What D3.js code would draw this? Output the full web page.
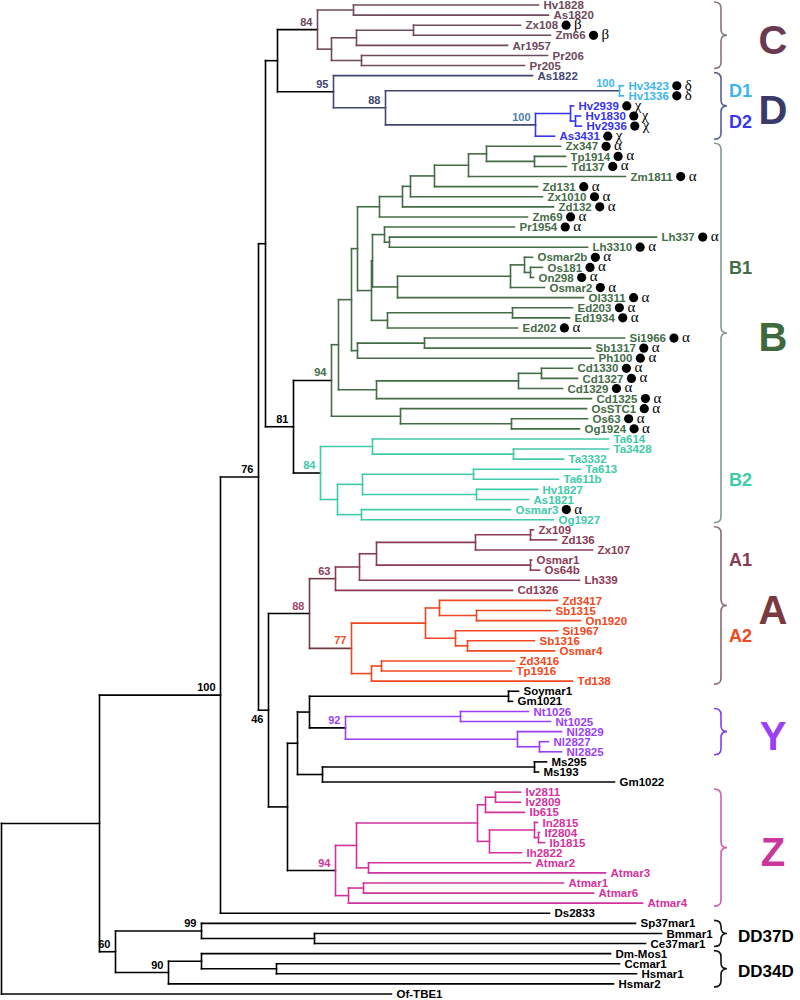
<!DOCTYPE html>
<html><head><meta charset="utf-8">
<script src="https://cdn.jsdelivr.net/npm/d3@7"></script>
<style>
body{margin:0;background:#fff;}
svg{display:block;font-family:"Liberation Sans",Arial,sans-serif;}
</style></head><body>
<svg id="chart" width="800" height="1000"></svg>
<script>
// ---------- DATA: subtrees (Newick, branch lengths) ----------
const subtreeC = "((Hv1828:0.185,As1820:0.195):0.036,(((Zx108:0.107,Zm66:0.137):0.057,Ar1957:0.151):0.025,(Pr206:0.186,Pr205:0.163):0.030):0.014)84:0.040";
const subtreeD = "(As1822:0.199,((Hv3423:0.004,Hv1336:0.004)100:0.234,((Hv2939:0.003,(Hv1830:0.005,Hv2936:0.006):0.005):0.035,As3431:0.019)100:0.150)88:0.052)95:0.056";
const subtreeB1a = "((((((Zx347:0.074,(Tp1914:0.031,Td137:0.032):0.048):0.018,Zm1811:0.157):0.034,Zd131:0.103):0.024,Zx1010:0.132):0.008,Zd132:0.151):0.023,Zm69:0.148):0.022";
const subtreeB1b = "(((Pr1954:0.130,(Lh337:0.267,Lh3310:0.198):0.005):0.012,(((Osmar2b:0.008,(Os181:0.012,On298:0.003):0.006):0.014,Osmar2:0.034):0.113,Ol3311:0.186):0.025):0.001,((Ed203:0.060,Ed1934:0.057):0.125,Ed202:0.130):0.016):0.014";
const subtreeB1c = "((Si1966:0.200,Sb1317:0.166):0.067,Ph100:0.236):0.006";
const subtreeB1d = "(((Cd1330:0.031,Cd1327:0.036):0.023,Cd1329:0.044):0.142,Cd1325:0.215):0.038";
const subtreeB1e = "(OsSTC1:0.186,(Os63:0.076,Og1924:0.068):0.111):0.069";
const subtreeB2 = "((Ta614:0.236,(Ta3428:0.095,Ta3332:0.050):0.141):0.052,(((Ta613:0.107,Ta611b:0.085):0.111,(Hv1827:0.061,As1821:0.052):0.114):0.025,(Osmar3:0.149,Og1927:0.192):0.024):0.017)84:0.027";
const subtreeA1 = "(((((Zx109:0.003,Zd136:0.026):0.055,Zx107:0.117):0.099,(Osmar1:0.001,Os64b:0.009):0.154):0.017,Lh339:0.220):0.024,Cd1326:0.177)63:0.026";
const subtreeA2 = "(((Zd3417:0.118,(Sb1315:0.074,On1920:0.104):0.037):0.014,(Si1967:0.102,(Sb1316:0.067,Osmar4:0.087):0.012):0.030):0.074,((Zd3416:0.133,Tp1916:0.130):0.010,Td138:0.201):0.020)77:0.042";
const subtreeSoy = "(Soymar1:0.010,Gm1021:0.004):0.199";
const subtreeY = "((Nt1026:0.068,Nt1025:0.090):0.115,(Nl2829:0.044,(Nl2827:0.009,Nl2825:0.022):0.022):0.172)92:0.036";
const subtreeMs = "((Ms295:0.012,Ms193:0.004):0.212,Gm1022:0.292):0.025";
const subtreeZ = "(((((Iv2811:0.025,Iv2809:0.025):0.010,Ib615:0.039):0.008,((In2815:0.003,(If2804:0.001,Ib1815:0.006):0.004):0.045,Ih2822:0.032):0.012):0.121,(Atmar2:0.162,Atmar3:0.237):0.012):0.021,((Atmar1:0.200,Atmar6:0.230):0.015,Atmar4:0.294):0.013)94:0.048";
const subtreeDD = "((Sp37mar1:0.434,(Bmmar1:0.347,Ce37mar1:0.331):0.113)99:0.086,((Dm-Mos1:0.409,(Ccmar1:0.343,Hsmar1:0.360):0.075):0.033,Hsmar2:0.445)90:0.053)60:0.016";

// clade colours: clade = common ancestor of [from, to]
const cladeFrom  = ["Hv1828","As1822","Hv3423","Hv2939","Zx347","Ta614","Zx109","Zx109","Zd3417","Nt1026","Iv2811"];
const cladeTo    = ["Pr205","As3431","Hv1336","As3431","Og1924","Og1927","Td138","Cd1326","Td138","Nl2825","Atmar4"];
const cladeColor = ["#6e4a5c","#42466f","#3bb5ec","#3535f0","#446c47","#3fcaa9","#6e3c42","#8b3a55","#f04820","#9a3ff5","#d2329e"];
// support label colour exceptions
const supportFrom = ["Hv2939","Zx109"];
const supportTo = ["As3431","Td138"];
const supportColor = ["#4d7fa9","#a24a6e"];

// markers after labels
const markerLetters = ["β","δ","χ","α"];
const markerLeaves = [
  ["Zx108","Zm66"],
  ["Hv3423","Hv1336"],
  ["Hv2939","Hv1830","Hv2936","As3431"],
  ["Zx347","Tp1914","Td137","Zm1811","Zd131","Zx1010","Zd132","Zm69","Pr1954","Lh337","Lh3310","Osmar2b","Os181","On298","Osmar2","Ol3311","Ed203","Ed1934","Ed202","Si1966","Sb1317","Ph100","Cd1330","Cd1327","Cd1329","Cd1325","OsSTC1","Os63","Og1924","Osmar3"]
];

// right-hand groups (braces)
const groupNames = ["C","D","B","A","Y","Z","DD37D","DD34D"];
const groupFrom = ["Hv1828","As1822","Zx347","Zx109","Nt1026","Iv2811","Sp37mar1","Dm-Mos1"];
const groupTo   = ["Pr205","As3431","Og1927","Td138","Nl2825","Atmar4","Ce37mar1","Hsmar2"];
const groupBraceColor = ["#8a7080","#5a6090","#869a8c","#8c6a72","#8040f0","#d060b0","#111","#111"];
const groupTextColor  = ["#6a3b50","#3a3a6a","#3e6a3e","#7a3a40","#9b40f4","#c8379a","#000","#000"];
// sub-group labels
const subNames = ["D1","D2","B1","B2","A1","A2"];
const subFrom = ["Hv3423","Hv2939","Osmar2b","Ta614","Zx109","Zd3417"];
const subTo   = ["Hv1336","As3431","On298","Og1927","Cd1326","Tp1916"];
const subColor = ["#3bb5ec","#3838ee","#446c47","#3fcaa9","#8b3a55","#f04820"];

// ---------- assemble tree ----------
const nodeB1 = `((((${subtreeB1a},${subtreeB1b}):0.006,${subtreeB1c}):0.013,${subtreeB1d}):0.007,${subtreeB1e})94:0.038`;
const nodeCD = `(${subtreeC},${subtreeD}):0.012`;
const nodeB = `(${nodeB1},${subtreeB2})81:0.028`;
const nodeA = `(${subtreeA1},${subtreeA2})88:0.041`;
const nodeYZ = `(((${subtreeSoy},${subtreeY}):0.012,${subtreeMs}):0.010,${subtreeZ}):0.019`;
const node76 = `((${nodeCD},${nodeB}):0.007,(${nodeA},${nodeYZ})46:0.010)76:0.038`;
const treeNewick = `(((${node76},Ds2833:0.329)100:0.121,${subtreeDD}):0.098,Of-TBE1:0.390);`;

function parseNewick(s){
  let i=0;
  function node(){
    const n={children:[]};
    if(s[i]==='('){
      i++; n.children.push(node());
      while(s[i]===','){i++; n.children.push(node());}
      i++;
    }
    let name='';
    while(i<s.length && !',():;'.includes(s[i])) name+=s[i++];
    n.name=name;
    n.length=0;
    if(s[i]===':'){i++; let num=''; while(i<s.length && !',();'.includes(s[i])) num+=s[i++]; n.length=+num;}
    if(!n.children.length) delete n.children;
    return n;
  }
  return node();
}

const svg = d3.select("#chart");
const root = d3.hierarchy(parseNewick(treeNewick));
root.eachBefore(d=>{ d.dist = d.parent ? d.parent.dist + d.data.length : 0; });
const leaves = root.leaves();
const yScale = d3.scaleLinear().domain([0, leaves.length-1]).range([5, 994]);
const xScale = d3.scaleLinear().domain([0, 0.66]).range([1.5, 661.5]);
leaves.forEach((d,i)=>{ d.py = yScale(i); });
root.eachAfter(d=>{
  if(d.children) d.py = (d.children[0].py + d.children[d.children.length-1].py)/2;
  d.px = xScale(d.dist);
});
const byName = new Map(leaves.map(d=>[d.data.name,d]));
function lca(a,b){ const A=new Set(byName.get(a).ancestors()); return byName.get(b).ancestors().find(n=>A.has(n)); }
const colorAt = new Map();
cladeFrom.forEach((f,i)=>colorAt.set(lca(f,cladeTo[i]), cladeColor[i]));
root.eachBefore(d=>{ d.color = colorAt.get(d) || (d.parent ? d.parent.color : "#000"); });
const supAt = new Map();
supportFrom.forEach((f,i)=>supAt.set(lca(f,supportTo[i]), supportColor[i]));

// ---------- branches ----------
const gl = svg.append("g").attr("stroke-width",1.6).attr("stroke-linecap","square").attr("fill","none");
gl.selectAll("line.h").data(root.descendants().filter(d=>d.parent)).join("line")
  .attr("x1",d=>d.parent.px).attr("x2",d=>d.px).attr("y1",d=>d.py).attr("y2",d=>d.py)
  .attr("stroke",d=>d.parent.color);
gl.selectAll("line.v").data(root.descendants().filter(d=>d.children)).join("line")
  .attr("x1",d=>d.px).attr("x2",d=>d.px)
  .attr("y1",d=>d.children[0].py).attr("y2",d=>d.children[d.children.length-1].py)
  .attr("stroke",d=>d.color);

// ---------- support values ----------
svg.append("g").selectAll("text").data(root.descendants().filter(d=>d.children && d.data.name)).join("text")
  .attr("x",d=>d.px-5).attr("y",d=>d.data.name==="46" ? d.py+13 : d.py-4)
  .attr("text-anchor","end").attr("font-size",11).attr("font-weight","bold")
  .attr("fill",d=>supAt.get(d) || d.color).text(d=>d.data.name);

// ---------- leaf labels + markers ----------
const markerOf = new Map();
markerLeaves.forEach((arr,i)=>arr.forEach(n=>markerOf.set(n, markerLetters[i])));
const gLab = svg.append("g");
leaves.forEach(d=>{
  const t = gLab.append("text").attr("x",d.px+5).attr("y",d.py).attr("dy","0.36em")
    .attr("font-size",11.5).attr("font-weight","bold").attr("fill",d.color).text(d.data.name);
  const m = markerOf.get(d.data.name);
  if(m){
    const w = t.node().getComputedTextLength();
    const cx = d.px + 5 + w + 8;
    gLab.append("circle").attr("cx",cx).attr("cy",d.py).attr("r",4.6).attr("fill","#000");
    gLab.append("text").attr("x",cx+8).attr("y",d.py+4)
      .attr("font-family","'Liberation Serif',serif").attr("font-size",15).attr("fill","#000").text(m);
  }
});

// ---------- braces & group labels ----------
const bx = 721;
function bracePath(y1,y2){
  const ym=(y1+y2)/2, r=6;
  return `M${bx-7},${y1} Q${bx},${y1} ${bx},${y1+r} L${bx},${ym-r} Q${bx},${ym} ${bx+6},${ym} Q${bx},${ym} ${bx},${ym+r} L${bx},${y2-r} Q${bx},${y2} ${bx-7},${y2}`;
}
const gg = svg.append("g");
groupNames.forEach((name,i)=>{
  const y1 = byName.get(groupFrom[i]).py - 3, y2 = byName.get(groupTo[i]).py + 3;
  gg.append("path").attr("d",bracePath(y1,y2)).attr("fill","none")
    .attr("stroke",groupBraceColor[i]).attr("stroke-width",1.6);
  const ym=(y1+y2)/2;
  if(name.length===1){
    gg.append("text").attr("x",773).attr("y",ym+4+0.716*40/2).attr("text-anchor","middle")
      .attr("font-size",40).attr("font-weight","bold").attr("fill",groupTextColor[i]).text(name);
  } else {
    gg.append("text").attr("x",738).attr("y",ym+2+0.716*17/2)
      .attr("font-size",17).attr("font-weight","bold").attr("fill",groupTextColor[i]).text(name);
  }
});
subNames.forEach((name,i)=>{
  const ym = (byName.get(subFrom[i]).py + byName.get(subTo[i]).py)/2;
  gg.append("text").attr("x",729).attr("y",ym+0.716*18/2)
    .attr("font-size",18).attr("font-weight","bold").attr("fill",subColor[i]).text(name);
});
</script>
</body></html>
